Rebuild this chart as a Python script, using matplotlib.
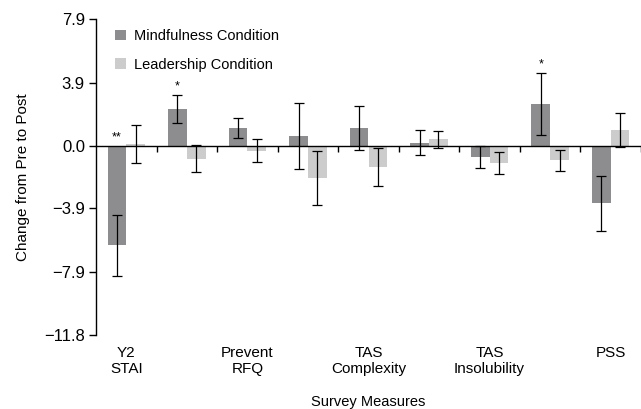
import numpy as np
import matplotlib
matplotlib.use("Agg")
import matplotlib.pyplot as plt
import matplotlib.transforms as mtransforms

plt.rcParams['font.family'] = ['Liberation Sans', 'DejaVu Sans']

# data
measures = ['Y2\nSTAI', '', 'Prevent\nRFQ', '', 'TAS\nComplexity', '',
            'TAS\nInsolubility', '', 'PSS']
mindful = [-6.2, 2.3, 1.1, 0.6, 1.1, 0.2, -0.7, 2.6, -3.6]
mindful_err = [1.9, 0.86, 0.63, 2.05, 1.37, 0.76, 0.7, 1.93, 1.74]
leader = [0.1, -0.8, -0.3, -2.0, -1.3, 0.4, -1.1, -0.9, 1.0]
leader_err = [1.17, 0.86, 0.71, 1.67, 1.18, 0.52, 0.68, 0.66, 1.06]
sig_marks = ['**', '*', '', '', '', '', '', '*', '']
yticks = [7.9, 3.9, 0.0, -3.9, -7.9, -11.8]

dark = '#8d8d8f'
light = '#cccccc'

fig = plt.figure(figsize=(6.41, 4.09), dpi=100)
W, H = 641, 409
ax = fig.add_axes([96 / W, (H - 335) / H, (W - 96) / W, (335 - 19) / H])

x = np.arange(len(measures))
bw = 0.31
ekw = dict(ecolor='black', elinewidth=0.9, capsize=3.5, capthick=0.9)
ax.bar(x - bw / 2, mindful, bw, color=dark, label='Mindfulness Condition',
       yerr=mindful_err, error_kw=ekw, zorder=2)
ax.bar(x + bw / 2, leader, bw, color=light, label='Leadership Condition',
       yerr=leader_err, error_kw=ekw, zorder=2)

# significance stars over the mindfulness bars
for i, s in enumerate(sig_marks):
    if s:
        top = max(0.0, mindful[i] + mindful_err[i])
        ax.annotate(s, (x[i] - bw / 2, top), xytext=(0, 2),
                    textcoords='offset points', ha='center', va='bottom',
                    fontsize=9)

ax.set_ylim(-11.8, 7.9)
ax.set_xlim(-0.5, -0.5 + (W - 96) / 61.0)
ax.set_yticks(yticks)
ax.set_yticklabels([f'{v:.1f}'.replace('-', '\u2212') for v in yticks])

for side in ['top', 'right']:
    ax.spines[side].set_visible(False)
ax.spines['bottom'].set_position(('data', 0))
ax.spines['bottom'].set_linewidth(1.0)
ax.spines['left'].set_linewidth(1.0)

bounds = np.arange(len(measures)) + 0.5
ax.set_xticks(bounds)
ax.set_xticklabels([])
ax.tick_params(axis='x', direction='out', length=4, width=1.0)
ax.tick_params(axis='y', direction='out', length=5, width=1.0,
               labelsize=12, pad=3)

trans = mtransforms.blended_transform_factory(ax.transData, ax.transAxes)
for i, lab in enumerate(measures):
    if lab:
        ax.text(x[i], -0.035, lab, transform=trans, ha='center', va='top',
                fontsize=11, linespacing=1.2)

ax.set_ylabel('Change from Pre to Post', fontsize=11, labelpad=10)
fig.text((96 + W) / 2 / W, 1 - 402 / H, 'Survey Measures', ha='center',
         va='center', fontsize=10.5)

ax.legend(loc='upper left', bbox_to_anchor=(0.01, 1.01), frameon=False,
          fontsize=10.5, handlelength=0.75, handleheight=0.75,
          labelspacing=1.0, handletextpad=0.55)

fig.savefig('out.png', dpi=100)
